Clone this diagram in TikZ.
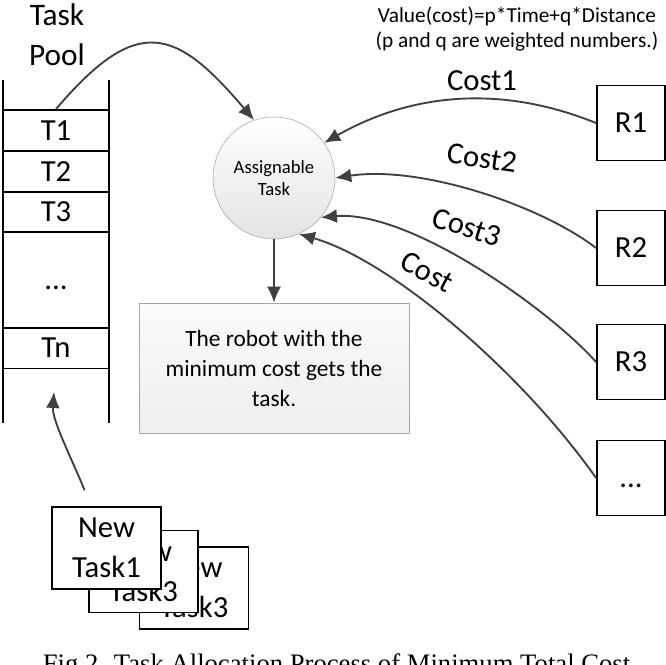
\documentclass[tikz,border=0pt]{standalone}
\usepackage{fontspec}
\setmainfont{Carlito}
\newfontfamily\capfont{Liberation Serif}
\usetikzlibrary{arrows.meta}
\begin{document}
\begin{tikzpicture}[x=0.75pt, y=-0.75pt,
    cell/.style={draw, line width=1.4pt, minimum width=79.5pt, minimum height=30.75pt, inner sep=0pt, font=\fontsize{23}{27}\selectfont},
    robot/.style={draw, line width=1.4pt, minimum width=51pt, minimum height=56.25pt, inner sep=0pt, font=\fontsize{23}{27}\selectfont},
    newtask/.style={draw, fill=white, line width=1.1pt, minimum width=81.75pt, minimum height=61.5pt, inner sep=0pt, align=center, font=\fontsize{23}{30}\selectfont},
    dotsfix/.style={text height=14pt, text depth=0pt},
    flow/.style={-{Latex[length=12pt,width=10.5pt]}, draw=black!75, line width=1.4pt},
    costlabel/.style={font=\fontsize{23}{27}\selectfont}]
      \useasboundingbox (0,0) rectangle (666,664);
      \clip (0,0) rectangle (666,664);

      % Task pool
      \node[align=center, font=\fontsize{23.5}{30}\selectfont] (pool) at (57,35) {Task\\Pool};
      \node[cell] (t1) at (56,130.5) {T1};
      \node[cell] (t2) at (56,171.5) {T2};
      \node[cell] (t3) at (56,212) {T3};
      \node[cell, dotsfix, minimum height=72pt] (tdots) at (56,280) {...};
      \node[cell] (tn) at (56,348) {Tn};
      \draw[line width=1.4pt] (3,80) -- (3,423);
      \draw[line width=1.4pt] (109,80) -- (109,423);
      \coordinate (poolin) at (54,392);

      % Assignable task and result
      \node[circle, draw=gray!70, top color=white, bottom color=gray!22, minimum size=91.5pt, inner sep=0pt, align=center, font=\fontsize{14}{16.5}\selectfont] (task) at (274,178) {Assignable\\Task};
      \node[draw=gray!70, top color=gray!4, bottom color=gray!13, minimum width=202.5pt, minimum height=97.5pt, align=center, font=\fontsize{17.5}{22.5}\selectfont] (win) at (274,368) {The robot with the\\minimum cost gets the\\task.};
      \node[align=center, font=\fontsize{16}{18.75}\selectfont] (formula) at (517,29) {Value(cost)=p*Time+q*Distance\\(p and q are weighted numbers.)};

      % Robots
      \node[robot] (r1) at (631,123) {R1};
      \node[robot] (r2) at (631,248) {R2};
      \node[robot] (r3) at (631,362) {R3};
      \node[robot, dotsfix] (r4) at (631,478) {...};

      % New tasks
      \node[newtask] (nt3) at (194,588) {New\\Task3};
      \node[newtask] (nt2) at (143.5,571.5) {New\\Task3};
      \node[newtask] (nt1) at (106.5,548) {New\\Task1};

      % Arrows
      \draw[flow] (t1.north) .. controls (137,14) and (175,27) .. (task.109);
      \draw[flow] (task.south) -- (win.north);
      \draw[flow] (r1.west) .. controls (497,83) and (408,95) .. (task.35);
      \draw[flow] (r2.west) .. controls (540,205) and (420,165) .. (task.east);
      \draw[flow] (r3.west) .. controls (550,310) and (410,210) .. (task.-40);
      \draw[flow] (r4.west) .. controls (520,370) and (390,260) .. (task.-66);
      \draw[flow, shorten <=13pt] (nt1.110) .. controls (70,455) and (52,420) .. (poolin);

      % Cost labels
      \node[costlabel] (c1) at (482,81) {Cost1};
      \node[costlabel, rotate=-8] (c2) at (482,158) {Cost2};
      \node[costlabel, rotate=-17] (c3) at (467,227) {Cost3};
      \node[costlabel, rotate=-28] (c4) at (427,272) {Cost};

      % Caption
      \node[anchor=base, font=\capfont\fontsize{20}{24}\selectfont] (caption) at (336.5,672.6) {Fig.2. Task Allocation Process of Minimum Total Cost};
    \end{tikzpicture}
\end{document}
